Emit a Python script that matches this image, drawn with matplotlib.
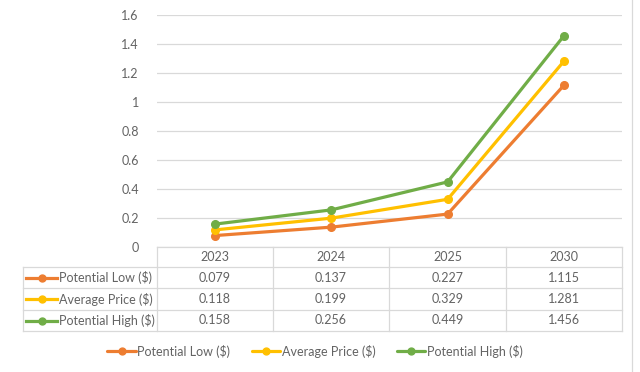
import matplotlib
matplotlib.use('Agg')
import matplotlib.pyplot as plt
from matplotlib.lines import Line2D

plt.rcParams['font.family'] = ['Lato', 'DejaVu Sans']

years = ['2023', '2024', '2025', '2030']
potential_low = [0.079, 0.137, 0.227, 1.115]
average_price = [0.118, 0.199, 0.329, 1.281]
potential_high = [0.158, 0.256, 0.449, 1.456]
series_names = ['Potential Low (\\$)', 'Average Price (\\$)', 'Potential High (\\$)']
series_values = [potential_low, average_price, potential_high]
colors = ['#ED7D31', '#FFC000', '#70AD47']
yticks = [0, 0.2, 0.4, 0.6, 0.8, 1, 1.2, 1.4, 1.6]
ytick_labels = ['0', '0.2', '0.4', '0.6', '0.8', '1', '1.2', '1.4', '1.6']

W, H = 640, 372
txt = '#636363'
grid = '#D9D9D9'
fs = 9


def fx(x):
    return x / W


def fy(y):
    return 1 - y / H


fig = plt.figure(figsize=(W / 100, H / 100), dpi=100)
ax = fig.add_axes([fx(157), fy(247), fx(622) - fx(157), fy(15) - fy(247)])

x = list(range(len(years)))
for vals, c, name in zip(series_values, colors, series_names):
    ax.plot(x, vals, color=c, lw=2.3, marker='o', ms=5.5, label=name,
            solid_capstyle='round', zorder=3)

ax.set_xlim(-0.5, len(years) - 0.5)
ax.set_ylim(0, 1.6)
ax.set_yticks(yticks)
ax.set_yticklabels(ytick_labels)
ax.set_xticks([])
ax.tick_params(axis='y', length=0, pad=13, labelsize=fs, labelcolor=txt)
ax.grid(axis='y', color=grid, lw=0.9)
ax.set_axisbelow(True)
for s in ax.spines.values():
    s.set_visible(False)

# data table under the plot
col_edges = [157, 273, 389, 506, 622]
row_edges = [247, 267, 288, 310, 331]
label_left = 23


def hline(x0, x1, y):
    fig.add_artist(Line2D([fx(x0), fx(x1)], [fy(y), fy(y)], color=grid, lw=0.9))


def vline(x, y0, y1):
    fig.add_artist(Line2D([fx(x), fx(x)], [fy(y0), fy(y1)], color=grid, lw=0.9))


hline(col_edges[0], col_edges[-1], row_edges[0])
for y in row_edges[1:]:
    hline(label_left, col_edges[-1], y)
for xe in col_edges:
    vline(xe, row_edges[0], row_edges[-1])
vline(label_left, row_edges[1], row_edges[-1])

for i, yr in enumerate(years):
    cx = (col_edges[i] + col_edges[i + 1]) / 2
    cy = (row_edges[0] + row_edges[1]) / 2
    fig.text(fx(cx), fy(cy), yr, ha='center', va='center', fontsize=fs, color=txt)

for r, (vals, c, name) in enumerate(zip(series_values, colors, series_names)):
    cy = (row_edges[r + 1] + row_edges[r + 2]) / 2
    fig.add_artist(Line2D([fx(26), fx(57)], [fy(cy), fy(cy)], color=c, lw=2.3))
    fig.add_artist(Line2D([fx(41.5)], [fy(cy)], color=c, marker='o', ms=5))
    fig.text(fx(59), fy(cy), name, ha='left', va='center', fontsize=fs, color=txt)
    for i, v in enumerate(vals):
        cx = (col_edges[i] + col_edges[i + 1]) / 2
        fig.text(fx(cx), fy(cy), f'{v:.3f}', ha='center', va='center',
                 fontsize=fs, color=txt)

# faint chart border on the right
vline(632, 0, H)

leg = fig.legend(loc='center', bbox_to_anchor=(fx(315), fy(351)), ncol=3,
                 frameon=False, fontsize=fs, handlelength=2.3, handletextpad=0.1,
                 columnspacing=1.7, markerscale=0.9)
for t in leg.get_texts():
    t.set_color(txt)

fig.savefig('out.png', dpi=100)
